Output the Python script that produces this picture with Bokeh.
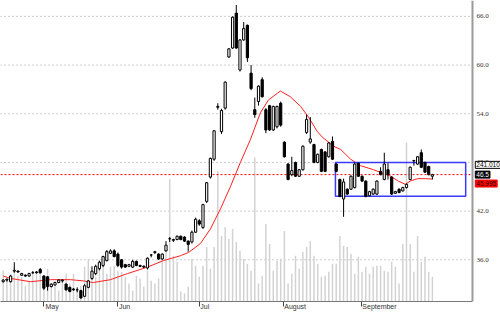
from bokeh.plotting import figure
from bokeh.models import (Range1d, FixedTicker, Span, Label, LabelSet,
                          ColumnDataSource)
from bokeh.embed import file_html
from bokeh.resources import INLINE

# ---------------- data ----------------
opens = [33.3, 33.5, 33.3, 34.6, 34.6, 34.1, 34.1, 34.0, 34.4, 34.5,
         34.8, 34.0, 33.9, 32.7, 32.9, 33.2, 33.4, 33.0, 32.6, 32.4,
         32.3, 32.2, 31.5, 32.6, 33.7, 34.3, 34.9, 35.3, 35.9, 36.8,
         37.1, 36.7, 36.0, 35.4, 35.2, 35.1, 35.8, 35.3, 35.2, 35.0,
         36.6, 36.9, 36.7, 36.1, 37.1, 38.6, 38.4, 38.5, 38.9, 38.8,
         38.3, 38.2, 39.4, 40.8, 40.0, 43.2, 46.2, 48.4, 54.8, 51.8,
         54.7, 61.0, 62.1, 66.4, 59.4, 63.1, 64.9, 59.0, 54.5, 55.5,
         58.2, 54.5, 55.0, 52.0, 52.4, 55.3, 50.5, 47.8, 46.5, 48.0,
         46.3, 47.1, 51.7, 50.5, 50.2, 48.0, 49.6, 49.3, 48.7, 50.6,
         47.8, 45.9, 43.5, 44.7, 44.7, 44.9, 47.9, 46.3, 45.7, 43.9,
         44.1, 44.1, 46.9, 45.9, 47.1, 46.2, 44.2, 44.7, 44.5, 44.9,
         45.9, 48.2, 47.8, 49.2, 48.0, 47.5, 46.3]
highs = [33.6, 33.7, 34.1, 35.7, 34.7, 34.4, 34.2, 34.4, 34.6, 34.6,
         35.0, 34.1, 34.0, 33.1, 33.3, 33.6, 33.6, 33.1, 32.7, 32.5,
         32.6, 32.3, 33.0, 33.5, 35.2, 35.4, 35.9, 36.5, 37.2, 37.3,
         37.3, 36.9, 36.1, 35.5, 35.5, 36.0, 35.9, 35.4, 35.3, 36.3,
         36.7, 37.1, 36.8, 36.8, 38.3, 38.8, 38.6, 39.0, 39.0, 38.9,
         38.4, 39.6, 41.2, 41.0, 42.9, 45.6, 48.6, 52.0, 55.3, 54.6,
         58.0, 62.1, 66.0, 67.4, 63.2, 65.3, 65.0, 60.0, 56.0, 57.5,
         58.5, 54.7, 55.1, 55.0, 55.0, 55.5, 50.6, 47.9, 48.7, 48.1,
         47.2, 50.1, 53.9, 53.6, 50.3, 49.1, 49.7, 49.4, 50.5, 51.2,
         47.9, 46.0, 46.0, 44.8, 46.4, 48.0, 48.0, 46.4, 45.8, 44.5,
         44.8, 45.8, 47.4, 49.2, 47.9, 46.3, 44.5, 44.8, 45.0, 45.4,
         47.5, 48.3, 48.8, 49.6, 48.1, 47.6, 46.6]
lows = [33.2, 33.3, 33.2, 34.4, 34.4, 34.0, 33.9, 33.9, 34.3, 34.3,
        34.3, 32.3, 32.2, 32.6, 32.8, 33.1, 33.2, 32.2, 32.0, 32.2,
        32.0, 31.2, 31.4, 32.5, 33.5, 34.1, 34.7, 35.1, 35.8, 36.7,
        36.3, 35.1, 34.9, 35.0, 35.1, 35.0, 35.2, 35.1, 35.0, 34.8,
        36.3, 36.7, 36.0, 36.0, 37.0, 38.2, 38.2, 38.4, 38.4, 38.2,
        37.0, 38.0, 39.3, 40.2, 39.8, 43.0, 46.0, 48.2, 54.5, 51.5,
        54.5, 60.9, 62.0, 62.0, 59.2, 63.0, 60.4, 56.9, 53.5, 55.0,
        56.0, 51.6, 51.9, 51.9, 52.2, 52.4, 48.6, 45.8, 46.3, 46.2,
        46.2, 47.0, 51.5, 50.3, 47.9, 47.9, 46.8, 46.8, 48.6, 48.3,
        46.8, 43.7, 41.3, 44.0, 44.6, 44.8, 46.2, 45.6, 43.7, 43.8,
        44.0, 44.0, 46.4, 45.8, 45.9, 44.0, 44.1, 44.2, 44.4, 44.8,
        45.8, 47.6, 47.7, 47.3, 46.7, 46.4, 45.9]
closes = [33.5, 33.6, 34.0, 34.7, 34.5, 34.3, 34.0, 34.3, 34.4, 34.4,
          34.4, 32.5, 32.7, 33.0, 33.2, 33.5, 33.5, 32.3, 32.1, 32.3,
          32.3, 31.3, 32.8, 33.4, 34.6, 35.2, 35.7, 36.4, 37.0, 37.1,
          36.4, 35.3, 35.1, 35.1, 35.4, 35.8, 35.3, 35.2, 35.1, 36.2,
          36.6, 37.0, 36.1, 36.7, 37.8, 38.6, 38.5, 38.9, 38.5, 38.3,
          37.9, 39.4, 41.0, 40.4, 42.8, 45.5, 48.5, 51.9, 54.9, 54.4,
          57.9, 62.0, 65.9, 62.1, 63.1, 64.5, 60.9, 57.1, 53.9, 57.4,
          56.1, 52.0, 52.0, 54.9, 54.9, 52.6, 48.7, 45.9, 47.0, 46.3,
          47.1, 50.0, 53.3, 50.9, 48.0, 49.0, 46.9, 46.9, 50.4, 48.4,
          46.9, 43.8, 45.6, 44.1, 46.3, 47.8, 46.3, 45.7, 43.8, 44.4,
          44.7, 45.7, 46.5, 47.8, 46.5, 44.1, 44.4, 44.3, 44.9, 45.3,
          47.4, 48.25, 48.7, 47.4, 46.8, 46.5, 46.5]
volumes = [298, 202, 270, 337, 250, 241, 154, 202, 298, 270,
           318, 222, 318, 145, 154, 106, 202, 270, 174, 270,
           106, 154, 337, 415, 202, 241, 318, 347, 270, 337,
           347, 298, 289, 241, 174, 106, 250, 222, 145, 298,
           202, 174, 222, 415, 540, 1186, 443, 386, 96, 77,
           145, 415, 347, 241, 347, 530, 318, 530, 1263, 636,
           723, 607, 704, 578, 492, 415, 366, 298, 1398, 174,
           250, 752, 559, 298, 395, 415, 684, 174, 270, 443,
           318, 482, 530, 588, 443, 366, 241, 250, 289, 366,
           366, 636, 540, 530, 463, 270, 434, 289, 337, 270,
           337, 347, 347, 298, 289, 386, 337, 174, 559, 1542,
           559, 289, 636, 386, 434, 289, 241]

# moving average (red line), read at a few bar positions
ma_x = [0, 2, 7.4, 12.8, 18.2, 21.7, 24.4, 29, 33.6, 39, 43.3, 47.9, 50.1,
        53.3, 56, 58.7, 61.4, 64.1, 66.8, 69.5, 71.7, 74.9, 77.6, 80.4,
        82.5, 84.9, 86.3, 89.3, 91.2, 93.9, 96.6, 100.1, 104.7, 106.8,
        108.7, 110, 112, 114.1, 116]
ma_y = [34.0, 33.7, 33.3, 33.55, 33.55, 33.4, 33.2, 33.55, 34.3, 35.1, 35.9,
        36.5, 36.9, 38.0, 39.8, 42.25, 45.0, 48.0, 50.8, 54.1, 55.7, 56.8,
        56.1, 54.9, 53.6, 51.8, 51.1, 50.0, 49.6, 48.4, 47.6, 47.1, 46.3,
        45.7, 45.3, 45.7, 46.0, 46.0, 45.95]

price_ticks = [36, 42, 48, 54, 60, 66]
month_names = ["May", "Jun", "Jul", "August", "September"]
month_starts = [11.0, 30.8, 53.0, 75.7, 96.8]
month_label_pos = [13.2, 32.8, 54.5, 78.9, 101.7]

last_price = 46.5
last_ma = 45.995
last_volume_text = "241.010"

box_left = [89.8]
box_right = [125.0]
box_top = [48.0]
box_bottom = [43.84]

# ---------------- layout constants ----------------
X_START, X_END = -0.73, 134.41     # whole canvas width
AXIS_X = 126.84                    # position of the price scale line
TICK_LABEL_X = 127.9               # left of the price scale texts
BOX_X = 127.6                      # left of the value boxes' texts

n = len(closes)
idx = list(range(n))
up = [c >= o for o, c in zip(opens, closes)]
src = ColumnDataSource(dict(
    x=idx, o=opens, h=highs, l=lows, c=closes,
    top=[max(o, c) for o, c in zip(opens, closes)],
    bot=[min(o, c) for o, c in zip(opens, closes)],
    fill=["white" if u else "black" for u in up],
    vol=volumes,
))

p = figure(width=500, height=312, output_backend="svg", toolbar_location=None,
           x_range=Range1d(X_START, X_END), y_range=Range1d(30.86, 67.96),
           y_axis_location=None, min_border_left=0, min_border_top=0,
           min_border_right=0, min_border_bottom=9)
p.background_fill_color = "white"
p.border_fill_color = "white"
p.outline_line_color = None
p.grid.visible = False

p.extra_y_ranges = {"vol": Range1d(0, 2921)}

# bottom month axis
xax = p.xaxis[0]
xax.bounds = (X_START, AXIS_X)
xax.ticker = FixedTicker(ticks=month_label_pos, minor_ticks=month_starts)
xax.major_label_overrides = {float(k): v for k, v in zip(month_label_pos, month_names)}
xax.major_tick_out = 0
xax.major_tick_in = 0
xax.minor_tick_out = 5
xax.minor_tick_in = 0
xax.minor_tick_line_color = "#444444"
xax.axis_line_color = "#777777"
xax.axis_line_width = 1
xax.major_label_standoff = -4
xax.major_label_text_font = "Liberation Sans"
xax.major_label_text_font_size = "7px"
xax.major_label_text_color = "#333333"

# price grid (stops at the price scale)
p.segment(x0=[X_START] * len(price_ticks), x1=[AXIS_X] * len(price_ticks),
          y0=price_ticks, y1=price_ticks, line_color="#9a9a9a",
          line_dash="1 3", line_width=1)

# volume
p.vbar(x="x", top="vol", bottom=0, width=0.4, source=src, y_range_name="vol",
       fill_color="#d2d2d2", line_color=None)

# last price line
p.segment(x0=[X_START], x1=[AXIS_X], y0=[last_price], y1=[last_price],
          line_color="red", line_dash="2 2", line_width=1)

# moving average
p.line(ma_x, ma_y, line_color="#ff2020", line_width=1)

# box
p.quad(left=box_left, right=box_right, top=box_top, bottom=box_bottom,
       fill_alpha=0, line_color="#3a3aff", line_width=1.5)

# candles
p.segment(x0="x", y0="h", x1="x", y1="l", source=src, line_color="black",
          line_width=1)
p.vbar(x="x", top="top", bottom="bot", width=0.6, source=src,
       fill_color="fill", line_color="black", line_width=1)

# price scale line
p.add_layout(Span(location=AXIS_X, dimension="height", line_color="#9a9a9a",
                  line_width=2))

# price scale labels
tick_src = ColumnDataSource(dict(
    x=[TICK_LABEL_X] * len(price_ticks), y=price_ticks,
    t=["%.1f" % v for v in price_ticks]))
p.add_layout(LabelSet(x="x", y="y", text="t", source=tick_src,
                      text_font="Liberation Sans", text_font_size="7px",
                      text_color="#333333", text_baseline="middle",
                      text_align="left"))

# right-hand value boxes
box_font = dict(text_font="Liberation Sans", text_font_size="6.5px",
                text_baseline="middle", padding=1)
p.add_layout(Label(x=BOX_X, y=47.7, text=last_volume_text, text_color="black",
                   background_fill_color="white", border_line_color="black",
                   border_line_width=1, **box_font))
p.add_layout(Label(x=BOX_X, y=last_price, text=f"{last_price}", text_color="white",
                   background_fill_color="black", border_line_color="black",
                   **box_font))
p.add_layout(Label(x=BOX_X, y=45.4, text=f"{last_ma:.3f}", text_color="#220000",
                   background_fill_color="#ff0000", border_line_color="#ff0000",
                   **box_font))

open("out.html", "w").write(file_html(p, INLINE))
